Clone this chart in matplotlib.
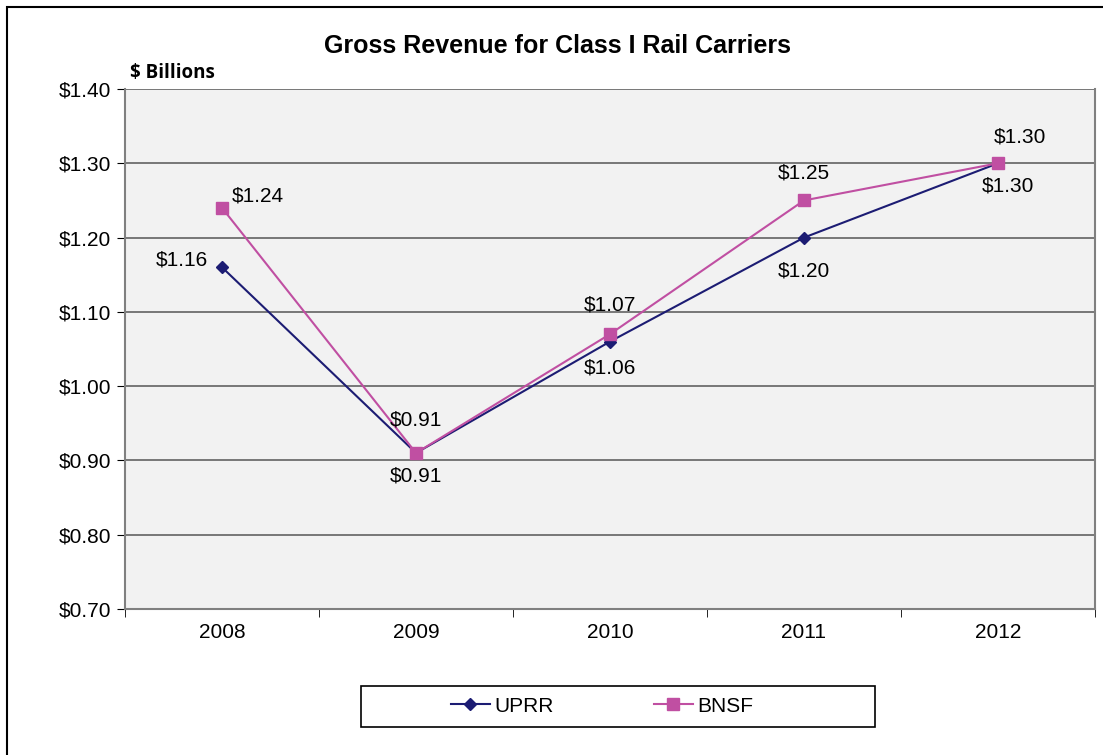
import matplotlib.pyplot as plt
from matplotlib.patches import Rectangle

years = ["2008", "2009", "2010", "2011", "2012"]
uprr = [1.16, 0.91, 1.06, 1.20, 1.30]
bnsf = [1.24, 0.91, 1.07, 1.25, 1.30]
y_ticks = [0.70, 0.80, 0.90, 1.00, 1.10, 1.20, 1.30, 1.40]

# label offsets in pixels (dx, dy) and alignment for each series
uprr_offsets = [(-14, 7, 'right'), (0, -23, 'center'), (0, -26, 'center'),
                (0, -33, 'center'), (10, -23, 'center')]
bnsf_offsets = [(10, 12, 'left'), (0, 33, 'center'), (0, 29, 'center'),
                (0, 27, 'center'), (22, 26, 'center')]

plt.rcParams['font.family'] = ['Liberation Sans', 'DejaVu Sans']

W, H = 1103, 755
fig = plt.figure(figsize=(W / 100, H / 100), dpi=100)
ax = fig.add_axes([125 / W, 1 - 609 / H, 970 / W, 520 / H])

# outer chart frame
fig.patches.append(Rectangle((7 / W, -0.1), 1.2, 1 - 7 / H + 0.1,
                             transform=fig.transFigure, fill=False,
                             edgecolor='black', linewidth=1.5))

ax.set_facecolor('#f2f2f2')
x = range(len(years))
ax.plot(x, uprr, color='#1c1c73', marker='D', markersize=6, linewidth=1.5,
        label='UPRR', zorder=3)
ax.plot(x, bnsf, color='#c04fa2', marker='s', markersize=8, linewidth=1.5,
        label='BNSF', zorder=3)

for i in x:
    dx, dy, ha = uprr_offsets[i]
    ax.annotate("$%.2f" % uprr[i], (i, uprr[i]), xytext=(dx * 0.72, dy * 0.72),
                textcoords='offset points', ha=ha, va='center', fontsize=15)
    dx, dy, ha = bnsf_offsets[i]
    ax.annotate("$%.2f" % bnsf[i], (i, bnsf[i]), xytext=(dx * 0.72, dy * 0.72),
                textcoords='offset points', ha=ha, va='center', fontsize=15)

ax.set_xlim(-0.5, len(years) - 0.5)
ax.set_ylim(0.70, 1.40)
ax.set_yticks(y_ticks)
ax.set_yticklabels(["$%.2f" % v for v in y_ticks], fontsize=15)
ax.set_xticks(x)
ax.set_xticklabels(years, fontsize=15)
ax.set_xticks([i - 0.5 for i in range(len(years) + 1)], minor=True)
ax.tick_params(axis='x', which='major', length=0, pad=10)
ax.tick_params(axis='x', which='minor', length=6, direction='out', color='black')
ax.tick_params(axis='y', length=6, direction='out', color='black', pad=4)
ax.grid(axis='y', color='#6e6e6e', linewidth=1.3)
ax.set_axisbelow(True)
for side in ['left', 'bottom', 'right', 'top']:
    ax.spines[side].set_color('#808080')
    ax.spines[side].set_linewidth(1.5)
ax.spines['top'].set_visible(False)

fig.text(558 / W, 1 - 46 / H, "Gross Revenue for Class I Rail Carriers",
         ha='center', va='center', fontsize=18, fontweight='bold')
fig.text(130 / W, 1 - 73 / H, "$ Billions", ha='left', va='center',
         fontsize=13.5, fontweight='bold', family=['Open Sans', 'DejaVu Sans'])

# legend box drawn separately so it can be wider than its contents
fig.patches.append(Rectangle((361 / W, 1 - 727 / H), 514 / W, 41 / H,
                             transform=fig.transFigure, fill=False,
                             edgecolor='black', linewidth=1.2))
leg = fig.legend(*ax.get_legend_handles_labels(), loc='center',
                 bbox_to_anchor=(602 / W, 1 - 706 / H), ncol=2, fontsize=15,
                 frameon=False, columnspacing=4.8, handlelength=1.9,
                 handletextpad=0.2)

fig.savefig("out.png", dpi=100)
